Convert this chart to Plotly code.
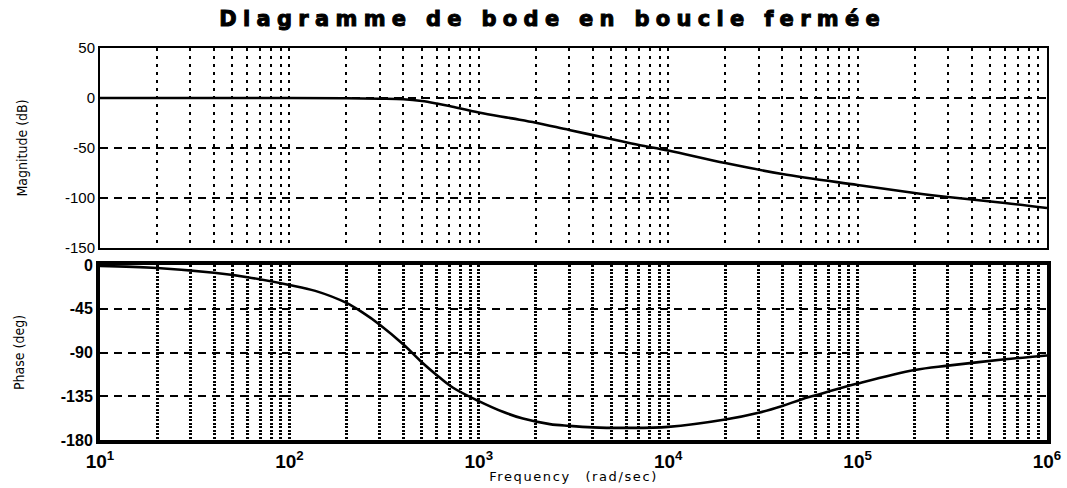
import plotly.graph_objects as go
from plotly.subplots import make_subplots

# Closed-loop frequency response (rad/s)
freq_mag = [10, 100, 200, 300, 400, 500, 600, 700, 1000, 1500, 2000, 3000,
            5000, 7000, 1e4, 2e4, 4e4, 1e5, 2e5, 3e5, 6e5, 1e6]
mag_db = [0, 0, -0.2, -0.7, -1.3, -3, -5.5, -8, -14.5, -20.4, -24.7, -32,
          -41, -47, -52.5, -65, -76, -87, -95, -99, -105, -110]

freq_ph = [10, 20, 40, 60, 100, 137, 200, 243, 300, 400, 500, 594, 728, 1000,
           1340, 1710, 2370, 3000, 4000, 6000, 1e4, 2e4, 3e4, 4e4, 5e4, 6e4,
           1e5, 2e5, 3e5, 6e5, 1e6]
phase_deg = [-1, -3, -8, -12.5, -20.5, -26.6, -39, -48.8, -61.4, -81.8, -100,
             -112.5, -126, -140, -151, -158, -163.7, -165.5, -167, -167.5,
             -166.5, -159, -152, -145, -138.5, -134, -122, -108, -103.5, -97,
             -93]

freq_ticks = [10, 100, 1000, 1e4, 1e5, 1e6]
freq_ticktext = ["10<sup>1</sup>", "10<sup>2</sup>", "10<sup>3</sup>",
                 "10<sup>4</sup>", "10<sup>5</sup>", "10<sup>6</sup>"]
mag_ticks = [50, 0, -50, -100, -150]
mag_ticktext = ["50", "0", "-50", "-100", "-150"]
phase_ticks = [0, -45, -90, -135, -180]
phase_ticktext = ["0", "-45", "-90", "-135", "-180"]

TITLE = "Diagramme de bode en boucle fermée"

fig = make_subplots(rows=2, cols=1, shared_xaxes=False, vertical_spacing=0.0)

fig.add_trace(go.Scatter(x=freq_mag, y=mag_db, mode="lines",
                         line=dict(color="black", width=2.6, shape="spline", smoothing=1.0),
                         showlegend=False, hoverinfo="skip"), row=1, col=1)
fig.add_trace(go.Scatter(x=freq_ph, y=phase_deg, mode="lines",
                         line=dict(color="black", width=2.6, shape="spline", smoothing=1.0),
                         showlegend=False, hoverinfo="skip"), row=2, col=1)

common_x = dict(type="log", range=[1, 6], tickvals=freq_ticks, ticktext=freq_ticktext,
                showline=True, mirror=True, linecolor="black", showgrid=True,
                gridcolor="black", ticks="", zeroline=False, automargin=False)

fig.update_layout(
    width=1067, height=488,
    margin=dict(l=100, r=20, t=48, b=48),
    paper_bgcolor="white", plot_bgcolor="white",
    title=dict(text=TITLE, x=0.518, xref="container", xanchor="center",
               y=0.962, yref="container", yanchor="middle",
               font=dict(family="DejaVu Sans", size=21, color="black", weight="bold")),
    xaxis=dict(**common_x, domain=[0, 1], anchor="y", showticklabels=False,
               linewidth=2, gridwidth=2, griddash="3px,5px",
               minor=dict(dtick="D1", showgrid=True, gridcolor="black",
                          gridwidth=2, griddash="3px,5px", ticks="")),
    yaxis=dict(domain=[0.4898, 1.0], anchor="x", range=[-150, 50], automargin=False,
               tickvals=mag_ticks, ticktext=mag_ticktext, showline=True, mirror=True,
               linecolor="black", linewidth=2, showgrid=True, gridcolor="black",
               gridwidth=1.5, griddash="8px,6px", zeroline=False, ticks="",
               tickfont=dict(family="Liberation Sans", size=15, color="black"),
               title=dict(text="Magnitude (dB)", standoff=34,
                          font=dict(family="Liberation Sans Narrow, DejaVu Sans Condensed",
                                    size=14, color="black"))),
    xaxis2=dict(**common_x, domain=[0, 1], anchor="y2", showticklabels=True,
                linewidth=4, gridwidth=2.5, griddash="2px,1.5px",
                ticklabelstandoff=1,
                minor=dict(dtick="D1", showgrid=True, gridcolor="black",
                           gridwidth=2.5, griddash="2px,1.5px", ticks=""),
                tickfont=dict(family="Liberation Sans", size=19, color="black", weight="bold"),
                title=dict(text="Frequency (rad/sec)", standoff=2,
                           font=dict(family="DejaVu Sans", size=13, color="black"))),
    yaxis2=dict(domain=[0.0, 0.4464], anchor="x2", range=[-180, 0], automargin=False,
                tickvals=phase_ticks, ticktext=phase_ticktext, showline=True,
                mirror=True, linecolor="black", linewidth=4, showgrid=True,
                gridcolor="black", gridwidth=1.5, griddash="8px,6px",
                zeroline=False, ticks="",
                tickfont=dict(family="Liberation Sans", size=16, color="black", weight="bold"),
                title=dict(text="Phase (deg)", standoff=34,
                           font=dict(family="Liberation Sans Narrow, DejaVu Sans Condensed",
                                     size=14, color="black"))),
)

# Wide, heavy lettering for the chart title and the frequency caption
post = ("document.querySelectorAll('.gtitle').forEach(function(t){"
        "t.style.letterSpacing='6.3px';t.style.stroke='black';t.style.strokeWidth='1px';});"
        "document.querySelectorAll('.x2title').forEach(function(t){"
        "t.style.letterSpacing='1.6px';t.style.wordSpacing='9px';});")

fig.write_html("out.html", post_script=post)
